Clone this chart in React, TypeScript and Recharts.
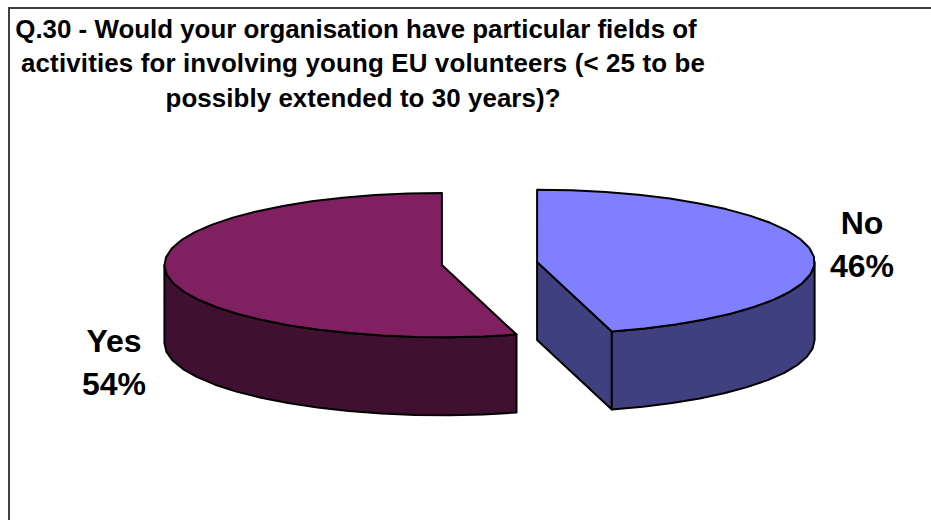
import React from 'react';
import { PieChart, Pie, Cell } from 'recharts';

const categories = ['No', 'Yes'];
const shares = [46, 54];
const topColors = ['#8080FF', '#802060'];
const wallColors = ['#404080', '#401030'];
const titleLines = [
  'Q.30 - Would your organisation have particular fields of',
  'activities for involving young EU volunteers (< 25 to be',
  'possibly extended to 30 years)?',
];

const data = categories.map((name, i) => ({ name, value: shares[i] }));

const WIDTH = 931;
const HEIGHT = 520;
const TILT = 0.26; // squash of the pie disc
const DEPTH = 78; // height of the extruded wall
const EXPLODE = 48;
const ARC_STEP = 7; // the outline is a coarse polyline, not a smooth curve

// clockwise degrees from 12 o'clock, with the slight skew of the 3D projection
const clockAngle = (rechartsAngle: number) => {
  const a = 90 - rechartsAngle;
  return a + 2.5 * Math.sin((2 * a * Math.PI) / 180);
};

function Slice3D(props: any) {
  const { cx, cy, outerRadius, startAngle, endAngle, index } = props;
  const from = clockAngle(startAngle);
  const to = clockAngle(endAngle);
  const rawMid = ((90 - startAngle + (90 - endAngle)) / 2) * (Math.PI / 180);
  const ox = cx + EXPLODE * Math.sin(rawMid);
  const oy = cy - EXPLODE * Math.cos(rawMid) * TILT;

  const pt = (deg: number, drop = 0): [number, number] => {
    const r = (deg * Math.PI) / 180;
    return [ox + outerRadius * Math.sin(r), oy - outerRadius * TILT * Math.cos(r) + drop];
  };
  const arc = (a: number, b: number, drop = 0) => {
    const n = Math.max(1, Math.round(Math.abs(b - a) / ARC_STEP));
    return Array.from({ length: n + 1 }, (_, i) => pt(a + ((b - a) * i) / n, drop));
  };
  const toPath = (pts: [number, number][]) =>
    'M' + pts.map((p) => `${p[0].toFixed(1)},${p[1].toFixed(1)}`).join('L') + 'Z';

  const line = { stroke: '#000', strokeWidth: 2, strokeLinejoin: 'round' as const };
  const wall = wallColors[index];

  // only the part of the rim facing the viewer (90..270 clockwise) gets a wall
  const wallFrom = Math.max(from, 90);
  const wallTo = Math.min(to, 270);
  const rim = arc(wallFrom, wallTo);
  const rimLow = arc(wallTo, wallFrom, DEPTH);

  // the cut face that turns toward the viewer: the end of the right-hand slice
  const cutFace: [number, number][] = [[ox, oy], pt(to), pt(to, DEPTH), [ox, oy + DEPTH]];

  return (
    <g>
      {to <= 180 && <path d={toPath(cutFace)} fill={wall} {...line} />}
      <path d={toPath([...rim, ...rimLow])} fill={wall} {...line} />
      <path d={toPath([[ox, oy], ...arc(from, to)])} fill={topColors[index]} {...line} />
    </g>
  );
}

const labelSpots: Record<string, { x: number; y: number }> = {
  No: { x: 862, y: 234 },
  Yes: { x: 114, y: 352 },
};

function SliceLabel(props: any) {
  const { name, value } = props;
  const spot = labelSpots[name];
  return (
    <text textAnchor="middle" fontFamily="Liberation Sans" fontWeight={700} fontSize={32} fill="#000">
      <tspan x={spot.x} y={spot.y}>{name}</tspan>
      <tspan x={spot.x} y={spot.y + 43}>{value}%</tspan>
    </text>
  );
}

export default function App() {
  return (
    <div style={{ position: 'absolute', left: 0, top: 0, width: WIDTH, height: HEIGHT, background: '#fff' }}>
      <PieChart width={WIDTH} height={HEIGHT} margin={{ top: 0, right: 0, bottom: 0, left: 0 }}>
        <path d="M9,520V8H931" fill="none" stroke="#404040" strokeWidth={2} />
        <g fontFamily="Liberation Sans" fontWeight={700} fontSize={25.9} fill="#000" textAnchor="middle">
          <text x={356} y={38}>{titleLines[0]}</text>
          <text x={363} y={72} textLength={684}>{titleLines[1]}</text>
          <text x={363} y={107} textLength={395}>{titleLines[2]}</text>
        </g>
        <Pie
          data={data}
          dataKey="value"
          nameKey="name"
          cx={489.5}
          cy={263.5}
          outerRadius={277.5}
          startAngle={90}
          endAngle={-270}
          stroke="none"
          isAnimationActive={false}
          shape={Slice3D}
          label={SliceLabel}
          labelLine={false}
        >
          {data.map((d) => (
            <Cell key={d.name} />
          ))}
        </Pie>
      </PieChart>
    </div>
  );
}
